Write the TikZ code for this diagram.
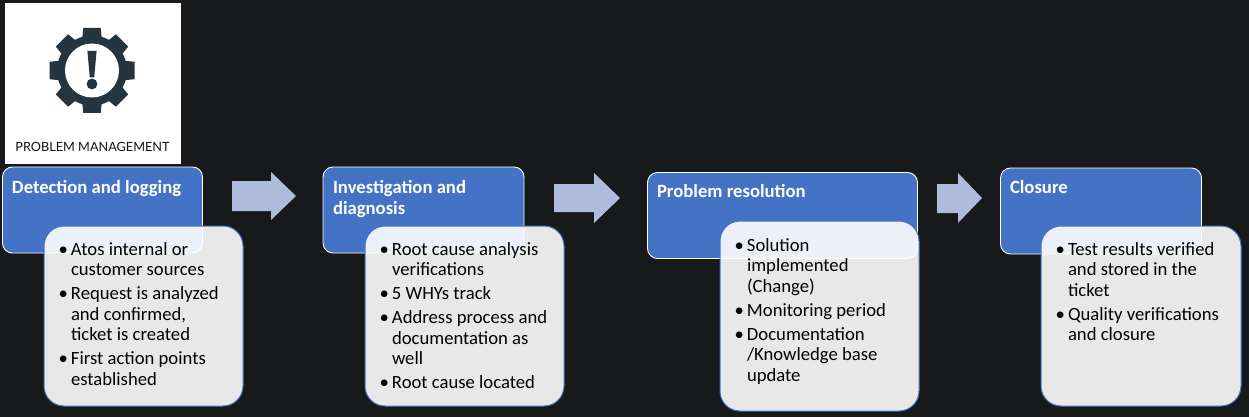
\documentclass[tikz,border=0pt]{standalone}
\usepackage{fontspec}
\setmainfont{Carlito}
\newfontfamily\logofont{Lato}
\definecolor{pagebg}{HTML}{18191B}
\definecolor{blueb}{HTML}{4472C4}
\definecolor{arrowc}{HTML}{AEBBDC}
\definecolor{gearc}{HTML}{25353F}
\newcommand{\pmlist}[2]{\begin{minipage}[t]{#1pt}\fontsize{18.67pt}{20.6pt}\selectfont\parindent=0pt\parskip=3.4pt\leftskip=19pt\rightskip=0pt plus 1fil\relax #2\end{minipage}}
\newcommand{\pmi}{\par\noindent\llap{\textbullet\hspace{3pt}}}
\newcommand{\pmhead}[1]{\begin{minipage}[t]{190pt}\fontsize{18.67pt}{21pt}\selectfont\bfseries #1\end{minipage}}
\tikzset{
  x=1pt,y=-1pt,
  head/.style={draw=white,line width=.9pt,fill=blueb,rounded corners=10pt,anchor=north west,inner sep=0pt,outer sep=0pt},
  body/.style={draw=blueb,line width=1pt,fill=white,fill opacity=.9,rounded corners=20pt,anchor=north west,inner sep=0pt,outer sep=0pt},
  headtext/.style={text=white,anchor=base west,inner sep=0pt,outer sep=0pt},
  listtext/.style={text=black,anchor=base west,inner sep=0pt,outer sep=0pt},
  blockarrow/.style={fill=arrowc,draw=none}
}
\begin{document}
\begin{tikzpicture}
\useasboundingbox (0,0) rectangle (1249,417);
\fill[pagebg] (0,0) rectangle (1249,417);
% logo
\node[fill=white,anchor=north west,inner sep=0pt,outer sep=0pt,minimum width=176pt,minimum height=161pt] (logo) at (5,3) {};
\begin{scope}[shift={(92,70.5)}]
  \fill[gearc] (0,0) circle[radius=35pt];
  \foreach \a in {0,45,...,315}{
    \fill[gearc,rotate=\a] (-10,-30) -- (-8.7,-42.5) -- (8.7,-42.5) -- (10,-30) -- cycle;
  }
  \fill[white] (0,0) circle[radius=27pt];
  \fill[gearc] (-4.6,-19.5) -- (4.6,-19.5) -- (2.2,7) -- (-2.2,7) -- cycle;
  \fill[gearc] (0,13.5) circle[radius=5.4pt];
\end{scope}
\node[anchor=base,inner sep=0pt,text=black!92,font=\logofont\fontsize{12.7pt}{15pt}\selectfont] (logotext) at (92.5,151) {PROBLEM MANAGEMENT};
% blue headers
\node[head,minimum width=200pt,minimum height=86pt] (h1) at (2.5,167) {};
\node[head,minimum width=201pt,minimum height=86pt] (h2) at (323,167) {};
\node[head,minimum width=270pt,minimum height=86pt] (h3) at (647.5,172.5) {};
\node[head,minimum width=201pt,minimum height=86pt] (h4) at (1000.5,168) {};
% grey bodies
\node[body,minimum width=199pt,minimum height=180pt] (b1) at (44,226) {};
\node[body,minimum width=199pt,minimum height=180pt] (b2) at (365,226) {};
\node[body,minimum width=199pt,minimum height=190pt] (b3) at (720,221) {};
\node[body,minimum width=200pt,minimum height=180pt] (b4) at (1041,226) {};
% header text
\node[headtext] (t1) at (12,193) {\pmhead{Detection and logging}};
\node[headtext] (t2) at (333,193) {\pmhead{Investigation and\\diagnosis}};
\node[headtext] (t3) at (657,197.5) {\pmhead{Problem resolution}};
\node[headtext] (t4) at (1010,193) {\pmhead{Closure}};
% list text
\node[listtext] (l1) at (52,255) {\pmlist{186}{\pmi Atos internal or\\customer sources\pmi Request is analyzed\\and confirmed,\\ticket is created\pmi First action points\\established}};
\node[listtext] (l2) at (373,255) {\pmlist{186}{\pmi Root cause analysis\\verifications\pmi 5 WHYs track\pmi Address process and\\documentation as\\well\pmi Root cause located}};
\node[listtext] (l3) at (728,251) {\pmlist{186}{\pmi Solution\\implemented\\(Change)\pmi Monitoring period\pmi Documentation\\/Knowledge base\\update}};
\node[listtext] (l4) at (1049,255) {\pmlist{186}{\pmi Test results verified\\and stored in the\\ticket\pmi Quality verifications\\and closure}};
% block arrows
\fill[blockarrow] (232,181) -- (271,181) -- (271,172) -- (296,196) -- (271,220) -- (271,211) -- (232,211) -- cycle;
\fill[blockarrow] (554,184) -- (594,184) -- (594,173) -- (620,198) -- (594,223) -- (594,212) -- (554,212) -- cycle;
\fill[blockarrow] (937,184) -- (958,184) -- (958,173) -- (982,198) -- (958,223) -- (958,213) -- (937,213) -- cycle;
\end{tikzpicture}
\end{document}
